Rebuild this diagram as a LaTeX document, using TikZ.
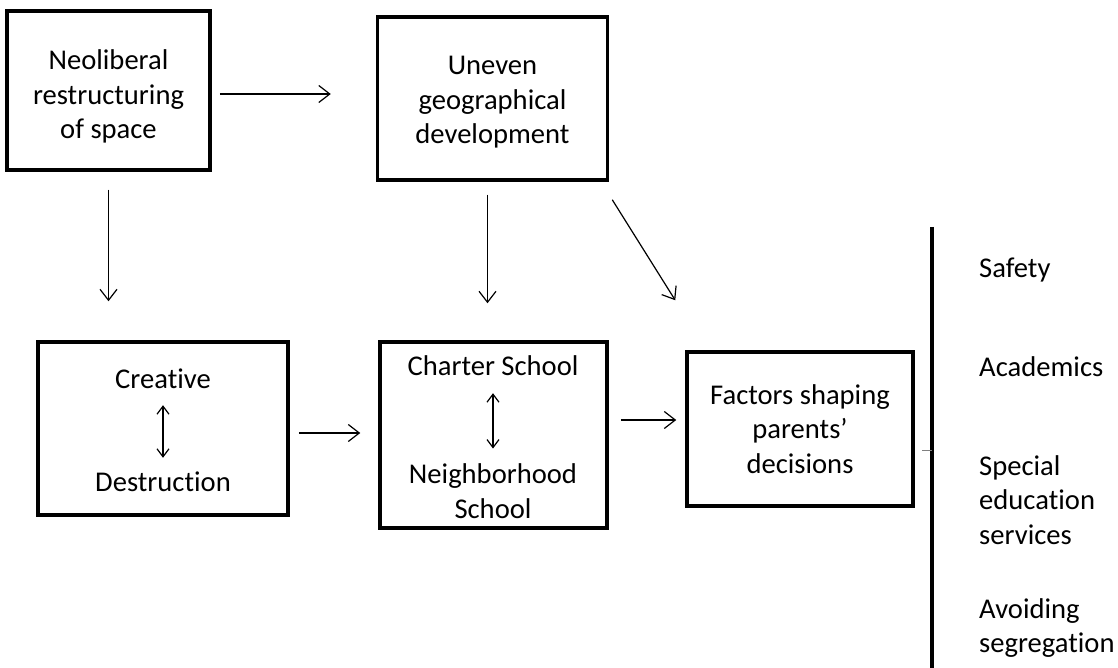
\documentclass[tikz,border=0pt]{standalone}
\usepackage{fontspec}
\setmainfont{Carlito}[Ligatures={NoCommon}]
\usetikzlibrary{arrows.meta}

\begin{document}
\begin{tikzpicture}[x=1pt,y=-1pt,
  every node/.style={font=\fontsize{28.6}{34.5}\selectfont},
  box/.style={draw, line width=3.5pt, align=center, inner sep=0pt},
  txt/.style={inner sep=0pt, text height=20pt, text depth=6pt},
  arr/.style={line width=1.2pt, -{Straight Barb[length=11pt,width=17pt]}},
  dbl/.style={line width=1.2pt, {Straight Barb[length=8pt,width=12pt]}-{Straight Barb[length=8pt,width=12pt]}},
  item/.style={anchor=west, align=left, inner sep=0pt}]
\useasboundingbox (0,0) rectangle (1118,668);

\node[box, minimum width=203pt, minimum height=159pt] (neo) at (108.5,90.5) {\rule{0pt}{32pt}Neoliberal\\restructuring\\of space};
\node[box, minimum width=230pt, minimum height=163pt] (uneven) at (492.5,98.5) {\rule{0pt}{26pt}Uneven\\geographical\\development};

\node[box, minimum width=250pt, minimum height=173pt] (cd) at (163,428.5) {};
\node[txt] (creative) at (163,381) {Creative};
\node[txt] (destruct) at (163,484) {Destruction};

\node[box, minimum width=227pt, minimum height=186pt] (school) at (493.5,435) {};
\node[txt] (charter) at (493,368) {Charter School};
\node[align=center, inner sep=0pt] (neigh) at (493,491) {Neighborhood\\School};

\node[box, minimum width=226pt, minimum height=154pt] (factors) at (800,429) {Factors shaping\\parents’\\decisions};

\coordinate (bartop) at (932,227);
\coordinate (barbot) at (932,668);
\coordinate (tick) at (922,450);
\draw[line width=4pt] (bartop) -- (barbot);
\draw[line width=0.6pt, gray] (tick) -- (tick -| bartop);

\node[item, txt] (safety) at (979,270) {Safety};
\node[item, txt] (academics) at (979,369) {Academics};
\node[item] (sped) at (979,500) {Special\\education\\services};
\node[item] (avoid) at (979,628) {Avoiding\\segregation};

\draw[arr] ([shift={(8,3.5)}]neo.east) -- ([shift={(-45,-4.5)}]uneven.west);
\draw[arr, shorten <=18pt, shorten >=39pt] (neo.south) -- (neo.south |- cd.north);
\draw[arr, shorten <=13pt, shorten >=37pt] ([xshift=-5pt]uneven.south) -- ([xshift=-5pt]uneven.south |- school.north);
\draw[arr] ([shift={(3,18)}]uneven.south east) -- ([shift={(-10,-50)}]factors.north west);
\draw[arr] ([shift={(9,4.5)}]cd.east) -- ([shift={(-18,-2)}]school.west);
\draw[arr] ([shift={(12,-15)}]school.east) -- ([shift={(-9,-9)}]factors.west);
\draw[dbl, shorten <=11pt, shorten >=13pt] (creative) -- (destruct);
\draw[dbl, shorten <=12pt, shorten >=15pt] (charter) -- (neigh);
\end{tikzpicture}
\end{document}
